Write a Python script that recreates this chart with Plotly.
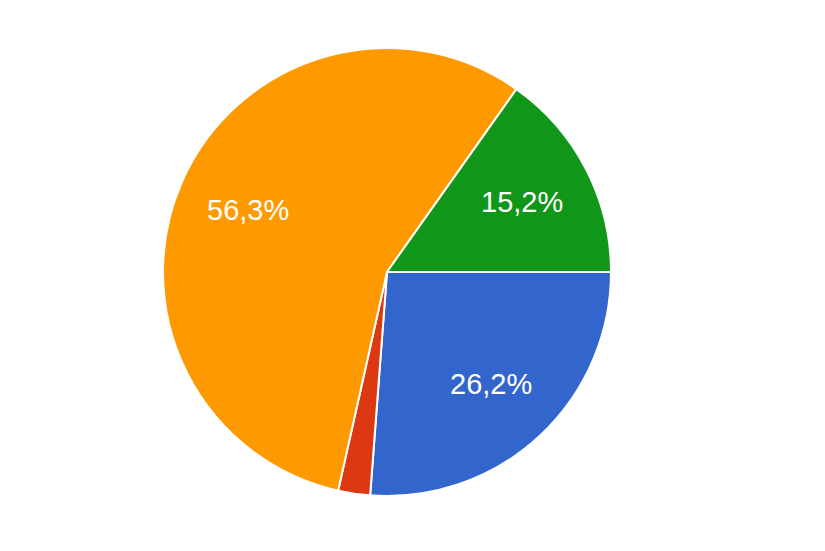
import math
import plotly.graph_objects as go

categories = ["Blue", "Red", "Orange", "Green"]
values = [26.2, 2.3, 56.3, 15.2]
colors = ["#3366cc", "#dc3912", "#ff9900", "#109618"]

W, H = 825, 551
# pie geometry (pixels, figure coordinates; the page adds an 8px body margin)
CX, CY, R = 379, 264, 224
ROTATION = 90
LABEL_R = 0.68

dom_x = [(CX - R) / W, (CX + R) / W]
dom_y = [1 - (CY + R) / H, 1 - (CY - R) / H]

fig = go.Figure(go.Pie(
    labels=categories,
    values=values,
    sort=False,
    direction="clockwise",
    rotation=ROTATION,
    marker=dict(colors=colors, line=dict(color="white", width=2)),
    textinfo="none",
    hoverinfo="label+percent",
    domain=dict(x=dom_x, y=dom_y),
))

# slice labels placed at the slice mid-angle, derived from the values
total = sum(values)
annotations = []
cum = 0.0
for v in values:
    mid = ROTATION + (cum + v / 2) / total * 360.0
    cum += v
    if v / total < 0.05:
        continue
    th = math.radians(mid)
    px = CX + LABEL_R * R * math.sin(th)
    py = CY - LABEL_R * R * math.cos(th)
    annotations.append(dict(
        x=px / W, y=1 - py / H, xref="paper", yref="paper",
        text=f"{v:.1f}%".replace(".", ","),
        showarrow=False, xanchor="center", yanchor="middle",
        font=dict(family="Arial, Liberation Sans, sans-serif", size=29, color="white"),
    ))

fig.update_layout(
    width=W, height=H,
    margin=dict(l=0, r=0, t=0, b=0),
    showlegend=False,
    paper_bgcolor="white",
    plot_bgcolor="white",
    annotations=annotations,
)

fig.write_html("out.html")
